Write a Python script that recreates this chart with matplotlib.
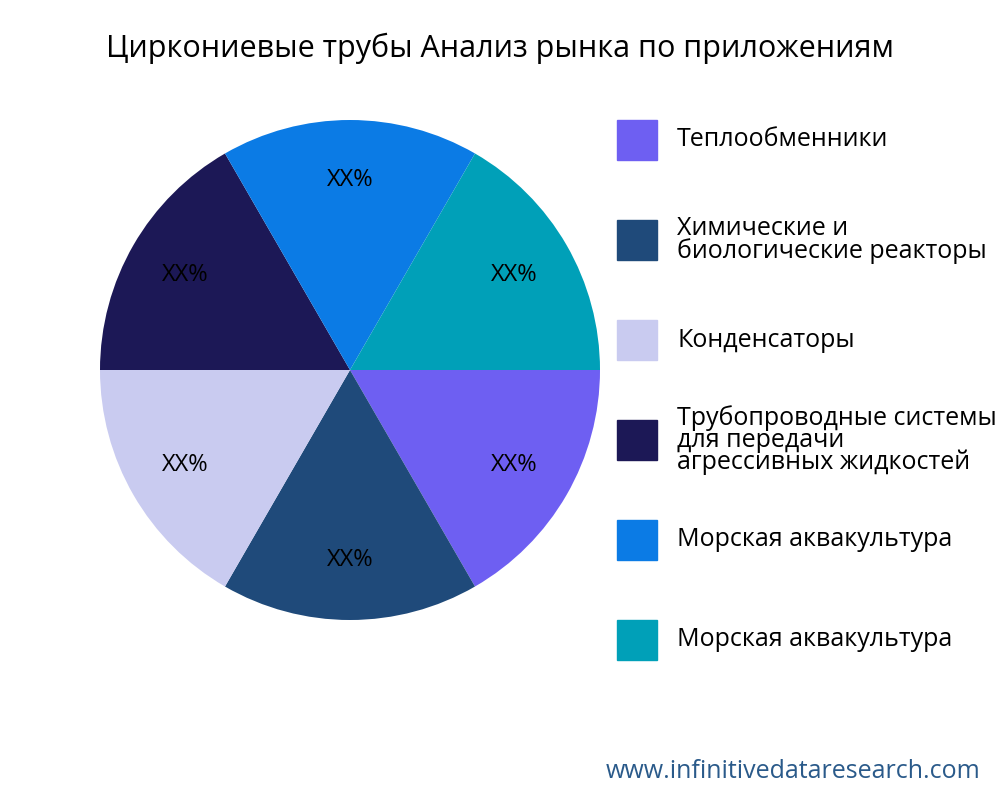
import matplotlib
matplotlib.use("Agg")
import matplotlib.pyplot as plt
from matplotlib.patches import Rectangle

plt.rcParams['font.family'] = ['Open Sans', 'DejaVu Sans']

labels = ['Теплообменники',
          'Химические и\nбиологические реакторы',
          'Конденсаторы',
          'Трубопроводные системы\nдля передачи\nагрессивных жидкостей',
          'Морская аквакультура',
          'Морская аквакультура']
values = [1, 1, 1, 1, 1, 1]
colors = ['#6E5FF2', '#1F4A7A', '#C9CBF0', '#1C1856', '#0B7BE5', '#00A0B8']

fig = plt.figure(figsize=(10, 8), dpi=100)
ax = fig.add_axes([0.1, 0.225, 0.5, 0.625])
ax.pie(values, colors=colors, startangle=0, counterclock=False,
       autopct=lambda p: 'XX%', pctdistance=0.76,
       textprops={'fontsize': 17, 'color': 'black'})
ax.set_xlim(-1, 1)
ax.set_ylim(-1, 1)
ax.set_aspect('equal')

fig.text(0.5, 0.94, 'Циркониевые трубы Анализ рынка по приложениям',
         ha='center', va='center', fontsize=22)

for i, (lab, c) in enumerate(zip(labels, colors)):
    yc = 1 - (140 + 100 * i) / 800
    fig.patches.append(Rectangle((0.617, yc - 0.025), 0.04, 0.05,
                                 transform=fig.transFigure, color=c))
    fig.text(0.677, yc, lab, ha='left', va='center', fontsize=18,
             linespacing=0.85)

fig.text(0.98, 0.035, 'www.infinitivedataresearch.com', ha='right',
         va='center', fontsize=18, color='#2A5A8A')

fig.savefig('out.png')
